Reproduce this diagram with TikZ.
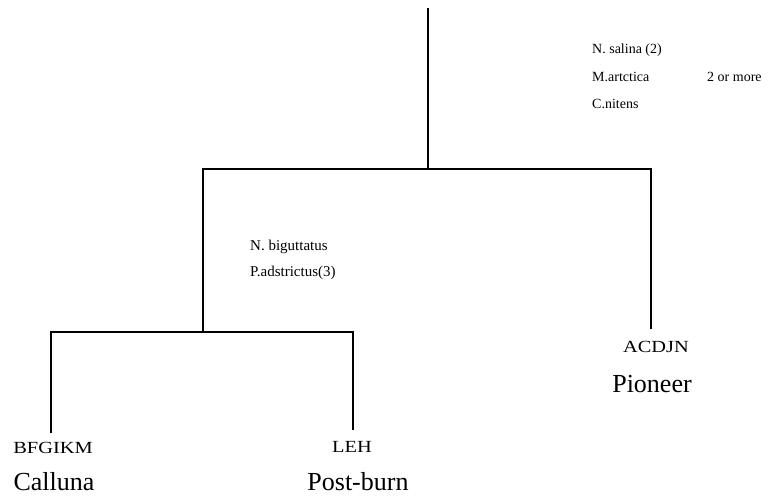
\documentclass[tikz,border=0pt]{standalone}
\usepackage{fontspec}
\setmainfont{Liberation Serif}
\newcommand{\widen}[1]{\scalebox{1.2}[1]{#1}}
\begin{document}
\begin{tikzpicture}[x=1pt,y=-1pt,
  br/.style={line width=2.6pt},
  small/.style={font=\fontsize{14}{16}\selectfont, anchor=west, inner sep=0pt},
  mid/.style={font=\fontsize{15}{17}\selectfont, anchor=west, inner sep=0pt},
  leaf/.style={font=\fontsize{17}{19}\selectfont, inner sep=0pt},
  grp/.style={font=\fontsize{26}{28}\selectfont, inner sep=0pt}]
\useasboundingbox (0,0) rectangle (779,497);
\coordinate (top) at (428,8);
\coordinate (j1) at (428,169);
\coordinate (a1) at (203,169);
\coordinate (b1) at (651,169);
\coordinate (a2) at (203,332);
\coordinate (pe) at (651,329);
\coordinate (l1) at (51,332);
\coordinate (r1) at (353,332);
\coordinate (le) at (51,433);
\coordinate (re) at (353,430);
\draw[br] (top) -- (j1);
\draw[br,line join=miter] (a2) -- (a1) -- (b1) -- (pe);
\draw[br,line join=miter] (le) -- (l1) -- (r1) -- (re);
\node[small] (ns) at (592,50) {N. salina (2)};
\node[small] (ma) at (592,77) {M.artctica};
\node[small] (tm) at (707,77) {2 or more};
\node[small] (cn) at (592,104) {C.nitens};
\node[mid] (nb) at (250,247) {N. biguttatus};
\node[mid] (pa) at (250,273) {P.adstrictus(3)};
\node[leaf] (bf) at (53,448) {\widen{BFGIKM}};
\node[grp] (ca) at (54,482) {Calluna};
\node[leaf] (lh) at (352,447) {\widen{LEH}};
\node[grp] (pb) at (358,482) {Post-burn};
\node[leaf] (ac) at (656,347) {\widen{ACDJN}};
\node[grp] (pi) at (652,384) {Pioneer};
\end{tikzpicture}
\end{document}
